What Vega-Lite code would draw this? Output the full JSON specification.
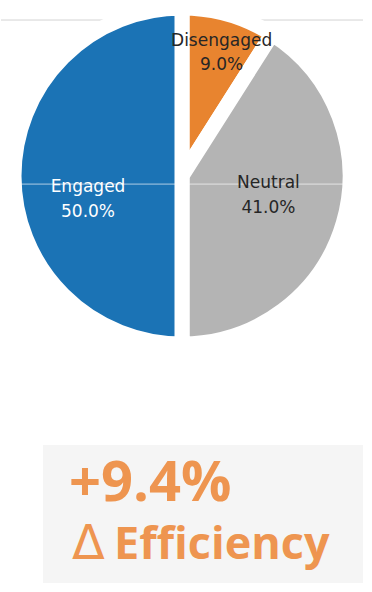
{
  "$schema": "https://vega.github.io/schema/vega-lite/v6.json",
  "padding": 0,
  "spacing": 93,
  "background": "white",
  "config": {"view": {"stroke": null}},
  "vconcat": [
    {
      "width": 362,
      "height": 352,
      "data": {"values": [
        {"category": "Disengaged", "share": 9.0},
        {"category": "Neutral", "share": 41.0},
        {"category": "Engaged", "share": 50.0}
      ]},
      "transform": [
        {"calculate": "datum.category + '\\n' + format(datum.share / 100, '.1%')", "as": "label"},
        {"calculate": "datum.category === 'Disengaged' ? 0 : datum.category === 'Neutral' ? 1 : 2", "as": "order"},
        {"window": [{"op": "sum", "field": "share", "as": "end"}], "sort": [{"field": "order"}], "frame": [null, 0]},
        {"calculate": "datum.end - datum.share", "as": "start"},
        {"calculate": "datum.end - datum.share / 2", "as": "mid"}
      ],
      "layer": [
        {
          "mark": {"type": "rule", "color": "#e6e6e6", "strokeWidth": 1},
          "encoding": {"y": {"datum": 0.943, "type": "quantitative", "scale": {"domain": [0, 1]}, "axis": null}}
        },
        {
          "mark": {"type": "arc", "outerRadius": 168, "stroke": "white", "strokeWidth": 15, "strokeJoin": "round"},
          "encoding": {
            "theta": {"field": "start", "type": "quantitative", "scale": {"domain": [0, 100]}, "stack": null},
            "theta2": {"field": "end"},
            "color": {
              "field": "category", "type": "nominal", "legend": null,
              "scale": {"domain": ["Disengaged", "Neutral", "Engaged"], "range": ["#e8842f", "#b4b4b4", "#1b73b5"]}
            }
          }
        },
        {
          "mark": {"type": "rule", "color": "#ffffff", "strokeWidth": 1, "opacity": 0.25},
          "encoding": {"y": {"datum": 0.477, "type": "quantitative", "scale": {"domain": [0, 1]}, "axis": null}}
        },
        {
          "transform": [{"filter": "datum.category === 'Engaged'"}],
          "mark": {"type": "text", "radius": 94, "font": "DejaVu Sans", "fontSize": 17, "lineBreak": "\n", "lineHeight": 25, "baseline": "middle", "dy": 11, "color": "#ffffff"},
          "encoding": {
            "theta": {"field": "mid", "type": "quantitative", "stack": null},
            "text": {"field": "label"}
          }
        },
        {
          "transform": [{"filter": "datum.category === 'Neutral'"}],
          "mark": {"type": "text", "radius": 90, "font": "DejaVu Sans", "fontSize": 17, "lineBreak": "\n", "lineHeight": 25, "baseline": "middle", "dy": -18, "color": "#262626"},
          "encoding": {
            "theta": {"field": "mid", "type": "quantitative", "stack": null},
            "text": {"field": "label"}
          }
        },
        {
          "transform": [{"filter": "datum.category === 'Disengaged'"}],
          "mark": {"type": "text", "radius": 142, "font": "DejaVu Sans", "fontSize": 17, "lineBreak": "\n", "lineHeight": 24, "baseline": "middle", "dy": 1, "color": "#262626"},
          "encoding": {
            "theta": {"field": "mid", "type": "quantitative", "stack": null},
            "text": {"field": "label"}
          }
        }
      ]
    },
    {
      "spacing": 0,
      "hconcat": [
        {
          "width": 42,
          "height": 138,
          "data": {"values": []},
          "mark": {"type": "point", "opacity": 0}
        },
        {
          "width": 320,
          "height": 138,
          "view": {"fill": "#f5f5f5", "stroke": null},
          "data": {"values": [
            {"line": "value", "text": "+9.4%"},
            {"line": "delta", "text": "Δ"},
            {"line": "label", "text": "Efficiency"}
          ]},
          "layer": [
            {
              "transform": [{"filter": "datum.line === 'value'"}],
              "mark": {"type": "text", "font": "Open Sans", "fontWeight": "bold", "fontSize": 56, "color": "#ee9550", "align": "left", "baseline": "alphabetic"},
              "encoding": {
                "x": {"datum": 26, "type": "quantitative", "scale": {"domain": [0, 320]}, "axis": null},
                "y": {"datum": 56, "type": "quantitative", "scale": {"domain": [0, 138], "reverse": true}, "axis": null},
                "text": {"field": "text"}
              }
            },
            {
              "transform": [{"filter": "datum.line === 'delta'"}],
              "mark": {"type": "text", "font": "DejaVu Sans", "fontWeight": "normal", "fontSize": 48, "color": "#ee9550", "align": "left", "baseline": "alphabetic"},
              "encoding": {
                "x": {"datum": 29, "type": "quantitative", "scale": {"domain": [0, 320]}, "axis": null},
                "y": {"datum": 114, "type": "quantitative", "scale": {"domain": [0, 138], "reverse": true}, "axis": null},
                "text": {"field": "text"}
              }
            },
            {
              "transform": [{"filter": "datum.line === 'label'"}],
              "mark": {"type": "text", "font": "Open Sans", "fontWeight": "bold", "fontSize": 45, "color": "#ee9550", "align": "left", "baseline": "alphabetic"},
              "encoding": {
                "x": {"datum": 71, "type": "quantitative", "scale": {"domain": [0, 320]}, "axis": null},
                "y": {"datum": 114, "type": "quantitative", "scale": {"domain": [0, 138], "reverse": true}, "axis": null},
                "text": {"field": "text"}
              }
            }
          ]
        }
      ]
    }
  ]
}
